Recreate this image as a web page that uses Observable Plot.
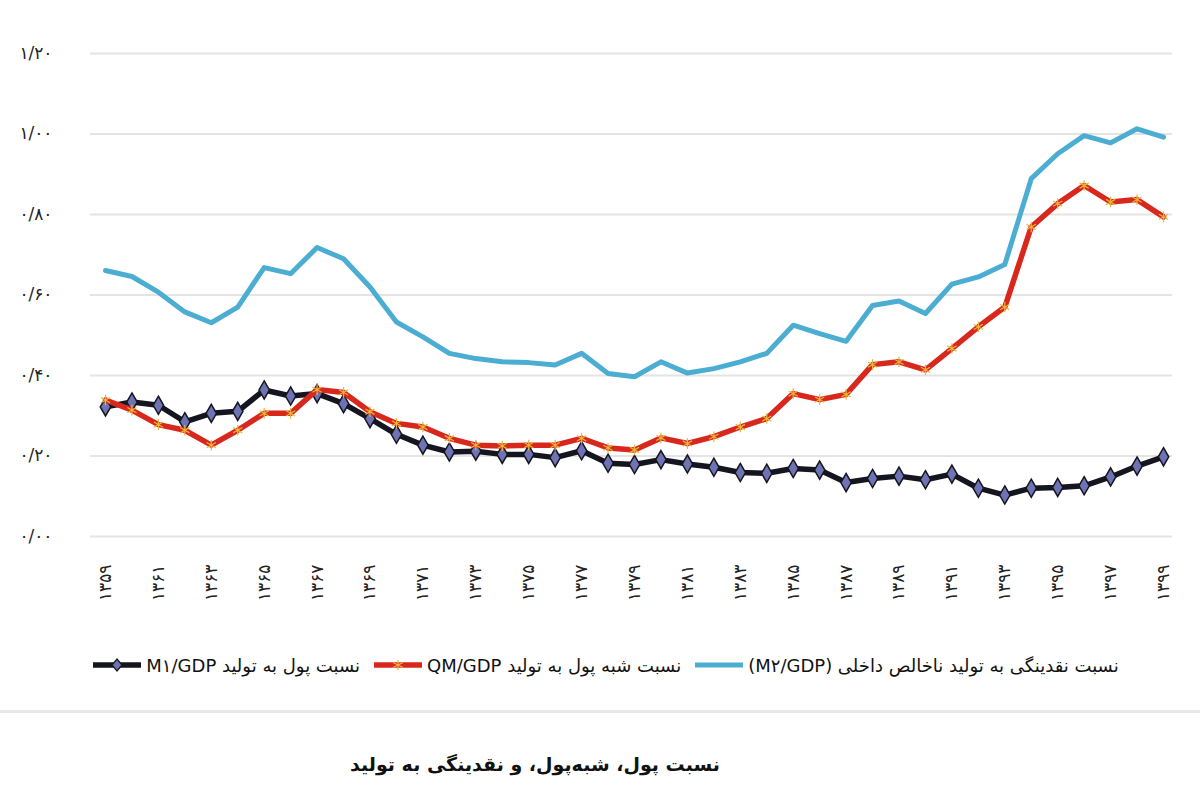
<!DOCTYPE html>
<html lang="fa">
<head>
<meta charset="utf-8">
<script src="https://cdn.jsdelivr.net/npm/d3@7"></script>
<script src="https://cdn.jsdelivr.net/npm/@observablehq/plot@0.6"></script>
<style>
  html, body { margin: 0; padding: 0; background: #fff; }
  body { width: 1200px; height: 800px; overflow: hidden; font-family: "DejaVu Sans", sans-serif; }
  #chart svg { display: block; }
  #legend { display: flex; flex-direction: row; direction: rtl; justify-content: center; align-items: center; gap: 12px; height: 30px; margin-top: 0px; padding-left: 10px; font-family: "DejaVu Sans", sans-serif; font-size: 18px; color: #111; }
  .item { display: flex; align-items: center; gap: 3px; direction: rtl; }
  #sep { margin-top: 30px; height: 0; border-top: 3px solid #e8e8e8; }
  #title { direction: rtl; text-align: center; margin-top: 40px; padding-right: 130px; font-family: "DejaVu Sans", sans-serif; font-weight: bold; font-size: 19px; color: #111; }
</style>
</head>
<body>
<div id="chart"></div>
<div id="legend"></div>
<div id="sep"></div>
<div id="title">نسبت پول، شبه‌پول، و نقدینگی به تولید</div>
<script>
const years = d3.range(1359, 1400);
const m1 = [0.322,0.334,0.326,0.285,0.306,0.311,0.364,0.349,0.355,0.330,0.293,0.254,0.227,0.210,0.212,0.204,0.204,0.196,0.213,0.182,0.179,0.191,0.180,0.172,0.159,0.157,0.169,0.165,0.134,0.144,0.150,0.141,0.155,0.120,0.103,0.120,0.122,0.126,0.148,0.175,0.198];
const qm = [0.339,0.314,0.278,0.264,0.227,0.264,0.306,0.306,0.365,0.358,0.310,0.281,0.272,0.244,0.227,0.225,0.227,0.227,0.244,0.220,0.215,0.245,0.231,0.248,0.272,0.293,0.355,0.340,0.353,0.427,0.434,0.414,0.467,0.521,0.570,0.769,0.827,0.872,0.831,0.837,0.794];
const m2 = [0.661,0.646,0.607,0.558,0.531,0.570,0.668,0.653,0.718,0.690,0.620,0.533,0.496,0.455,0.442,0.434,0.432,0.426,0.455,0.405,0.397,0.434,0.406,0.417,0.434,0.455,0.525,0.504,0.485,0.574,0.585,0.554,0.627,0.645,0.676,0.889,0.951,0.996,0.978,1.013,0.992];
const xTicks = d3.range(1359, 1400, 2);
const xTickLabels = ["۱۳۵۹","۱۳۶۱","۱۳۶۳","۱۳۶۵","۱۳۶۷","۱۳۶۹","۱۳۷۱","۱۳۷۳","۱۳۷۵","۱۳۷۷","۱۳۷۹","۱۳۸۱","۱۳۸۳","۱۳۸۵","۱۳۸۷","۱۳۸۹","۱۳۹۱","۱۳۹۳","۱۳۹۵","۱۳۹۷","۱۳۹۹"];
const yTicks = [0, 0.2, 0.4, 0.6, 0.8, 1.0, 1.2];
const yTickLabels = ["۰/۰۰","۰/۲۰","۰/۴۰","۰/۶۰","۰/۸۰","۱/۰۰","۱/۲۰"];
const seriesNames = ["نسبت نقدینگی به تولید ناخالص داخلی (M۲/GDP)", "نسبت شبه پول به تولید QM/GDP", "نسبت پول به تولید M۱/GDP"];
const colors = { m2: "#4badd2", qm: "#d8281d", m1: "#15151f", m1Marker: "#6e73b4", qmMarker: "#eab53a" };

const rows = (vals) => years.map((y, i) => ({ year: y, value: vals[i] }));
const d1 = rows(m1), dq = rows(qm), d2 = rows(m2);

const chart = Plot.plot({
  width: 1200,
  height: 650,
  marginLeft: 90,
  marginRight: 28,
  marginTop: 53,
  marginBottom: 114,
  style: { fontFamily: "DejaVu Sans, sans-serif", background: "#fff" },
  x: { domain: [1358.433, 1399.34] },
  y: { domain: [0, 1.2] },
  marks: [
    Plot.gridY(yTicks, { stroke: "#e4e4e4", strokeOpacity: 1, strokeWidth: 2 }),
    Plot.axisY({ ticks: yTicks, tickSize: 0, tickPadding: 38, fontSize: 17, tickFormat: (d) => yTickLabels[yTicks.indexOf(d)], label: null, fill: "#222" }),
    Plot.axisX({ ticks: xTicks, tickSize: 0, tickPadding: 28, tickRotate: -90, fontSize: 17, tickFormat: (d) => xTickLabels[xTicks.indexOf(d)], label: null, fill: "#222" }),
    Plot.line(d1, { x: "year", y: "value", stroke: colors.m1, strokeWidth: 5.5, strokeLinejoin: "round" }),
    Plot.dot(d1, { x: "year", y: "value", symbol: "diamond", r: 5.5, fill: colors.m1Marker, stroke: colors.m1, strokeWidth: 1.5 }),
    Plot.line(dq, { x: "year", y: "value", stroke: colors.qm, strokeWidth: 5.5, strokeLinejoin: "round" }),
    Plot.dot(dq, { x: "year", y: "value", symbol: "asterisk", r: 5, stroke: colors.qmMarker, strokeWidth: 1.2 }),
    Plot.line(d2, { x: "year", y: "value", stroke: colors.m2, strokeWidth: 5, strokeLinejoin: "round" })
  ]
});
document.getElementById("chart").appendChild(chart);

// legend (RTL: first item is rightmost)
const legend = document.getElementById("legend");
const swatches = [
  `<svg width="52" height="14"><line x1="2" y1="7" x2="50" y2="7" stroke="${colors.m2}" stroke-width="5"/></svg>`,
  `<svg width="52" height="14"><line x1="2" y1="7" x2="50" y2="7" stroke="${colors.qm}" stroke-width="5.5"/><path d="M26 2V12M21 4.5L31 9.5M21 9.5L31 4.5" stroke="${colors.qmMarker}" stroke-width="1.2"/></svg>`,
  `<svg width="52" height="14"><line x1="2" y1="7" x2="50" y2="7" stroke="${colors.m1}" stroke-width="5.5"/><path d="M26 1L31 7L26 13L21 7Z" fill="${colors.m1Marker}" stroke="${colors.m1}" stroke-width="1.2"/></svg>`
];
seriesNames.forEach((name, i) => {
  const item = document.createElement("div");
  item.className = "item";
  item.innerHTML = `<span>${name}</span>${swatches[i]}`;
  legend.appendChild(item);
});
</script>
</body>
</html>
